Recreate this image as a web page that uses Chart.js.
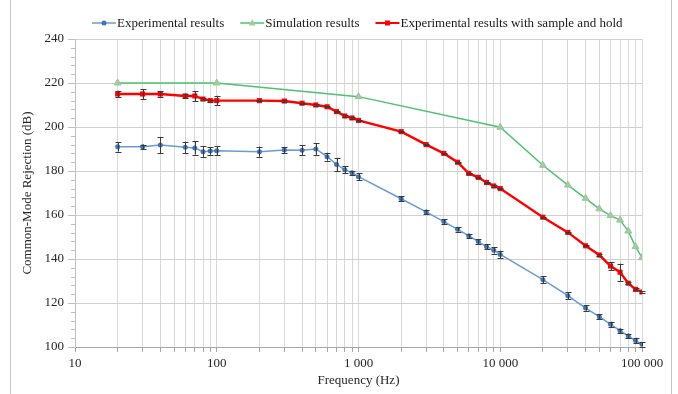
<!DOCTYPE html>
<html>
<head>
<meta charset="utf-8">
<script src="https://cdn.jsdelivr.net/npm/chart.js@4"></script>
<style>
  html, body { margin: 0; padding: 0; background: #fff; }
  #wrap { width: 678px; height: 394px; position: relative; }
</style>
</head>
<body>
<div id="wrap"><canvas id="cmrChart"></canvas></div>
<script>
// Common-mode rejection vs frequency (log x axis), with error bars
const freqs = [20, 30, 40, 60, 70, 80, 90, 100, 200, 300, 400, 500, 600, 700, 800, 900,
  1000, 2000, 3000, 4000, 5000, 6000, 7000, 8000, 9000,
  10000, 20000, 30000, 40000, 50000, 60000, 70000, 80000, 90000, 100000];

const expValues = [191, 191, 191.8, 190.8, 190.5, 188.8, 189.1, 189.2, 188.8, 189.5, 189.4, 190, 186.5, 183, 180.6, 179.2,
  177.4, 167.4, 161.4, 157, 153.5, 150.5, 147.9, 145.6, 144,
  142.1, 130.6, 123.3, 117.7, 113.8, 110.3, 107.4, 105, 102.9, 101.2];
const expErrors = [2.2, 1, 3.7, 2.6, 3, 2.4, 1.7, 2.1, 2.3, 1.5, 2.2, 2.7, 1.8, 3, 1.5, 0.8,
  1.7, 1.2, 1, 1, 1, 1, 1, 1.2, 1.5,
  1.7, 1.5, 1.5, 1.2, 1.2, 1.2, 1, 1, 1.3, 1];

const shValues = [215, 215, 215, 214.1, 214.1, 212.7, 212, 212, 212, 211.8, 210.8, 210, 209.2, 207, 205, 204.1,
  203, 197.9, 192, 188, 184, 178.9, 177.1, 174.8, 173.2,
  172, 159, 152.1, 146, 141.8, 136.8, 134, 129, 126.2, 125];
const shErrors = [1.5, 2.3, 1.2, 1, 2.3, 0.5, 0.5, 2.2, 0.3, 0.3, 0.3, 0.3, 0.3, 0.3, 0.3, 0.3,
  0.3, 0.3, 0.3, 0.3, 0.3, 0.3, 0.3, 0.3, 0.3,
  0.3, 0.3, 0.3, 0.3, 0.3, 1.8, 3.9, 0.4, 0.4, 0.3];

const simFreqs = [20, 100, 1000, 10000, 20000, 30000, 40000, 50000, 60000, 70000, 80000, 90000, 100000];
const simValues = [220, 220, 213.8, 199.9, 182.6, 173.6, 167.6, 162.8, 159.7, 157.7, 152.7, 145.6, 140.6];

const xDecades = [10, 100, 1000, 10000, 100000];
const yMin = 100, yMax = 240, yStep = 20, yMinorStep = 4;

const FONT = 'Liberation Serif';
const TXT = '#262626';

const toPoints = (xs, ys) => xs.map((x, i) => ({ x: x, y: ys[i] }));
const fmt = v => String(v).replace(/\B(?=(\d{3})+(?!\d))/g, ' ');

const series = [
  { label: 'Experimental results', color: '#6a9bd3', marker: '#3f74b8', style: 'circle' },
  { label: 'Simulation results', color: '#4dc26f', marker: '#a9c6a6', style: 'triangle' },
  { label: 'Experimental results with sample and hold', color: '#ff0000', marker: '#ff0000', style: 'rect' }
];

function drawMarker(c, style, x, y, color) {
  c.fillStyle = color;
  c.beginPath();
  if (style === 'circle') {
    c.arc(x, y, 2.5, 0, Math.PI * 2);
  } else if (style === 'triangle') {
    c.moveTo(x, y - 4); c.lineTo(x + 3.5, y + 2.5); c.lineTo(x - 3.5, y + 2.5); c.closePath();
  } else {
    c.rect(x - 2.5, y - 2.5, 5, 5);
  }
  c.fill();
}

const extras = {
  id: 'extras',
  afterDatasetsDraw(chart) {
    const c = chart.ctx, ys = chart.scales.y;
    // error bars
    [[0, expErrors], [2, shErrors]].forEach(([di, errs]) => {
      const meta = chart.getDatasetMeta(di);
      const vals = chart.data.datasets[di].data;
      c.save();
      c.strokeStyle = '#3a3a3a';
      c.lineWidth = 1;
      meta.data.forEach((pt, i) => {
        const e = errs[i];
        const y1 = ys.getPixelForValue(vals[i].y + e), y2 = ys.getPixelForValue(vals[i].y - e);
        const x = Math.round(pt.x) + 0.5;
        c.beginPath();
        c.moveTo(x, y1); c.lineTo(x, y2);
        c.moveTo(x - 3, Math.round(y1) + 0.5); c.lineTo(x + 3, Math.round(y1) + 0.5);
        c.moveTo(x - 3, Math.round(y2) + 0.5); c.lineTo(x + 3, Math.round(y2) + 0.5);
        c.stroke();
      });
      c.restore();
    });
  },
  afterDraw(chart) {
    const c = chart.ctx, ys = chart.scales.y, area = chart.chartArea;
    c.save();
    // minor y ticks
    c.strokeStyle = '#bfbfbf';
    c.lineWidth = 1;
    c.beginPath();
    for (let v = yMin; v <= yMax; v += yMinorStep) {
      if (v % yStep === 0) continue;
      const y = Math.round(ys.getPixelForValue(v)) + 0.5;
      c.moveTo(area.left - 4, y); c.lineTo(area.left, y);
    }
    c.stroke();
    // outer frame sides
    c.strokeStyle = '#c4c4c4';
    c.beginPath();
    c.moveTo(10.5, 0); c.lineTo(10.5, 394);
    c.moveTo(671.5, 0); c.lineTo(671.5, 394);
    c.stroke();
    // legend
    c.font = '13px "' + FONT + '"';
    c.textBaseline = 'middle';
    let x = 92;
    const y = 23;
    series.forEach(s => {
      c.strokeStyle = s.color;
      c.lineWidth = s.style === 'rect' ? 2 : 1.5;
      c.beginPath();
      c.moveTo(x, y); c.lineTo(x + 24, y);
      c.stroke();
      drawMarker(c, s.style, x + 12, y, s.marker);
      c.fillStyle = '#1a1a1a';
      c.fillText(s.label, x + 25, y + 1);
      x += 25 + c.measureText(s.label).width + 16;
    });
    c.restore();
  }
};

const ctx = document.getElementById('cmrChart').getContext('2d');

const cmrChart = new Chart(ctx, {
  type: 'line',
  data: {
    datasets: [
      {
        label: series[0].label,
        data: toPoints(freqs, expValues),
        borderColor: series[0].color,
        borderWidth: 1.5,
        pointStyle: 'circle',
        pointRadius: 2.5,
        pointBackgroundColor: series[0].marker,
        pointBorderColor: series[0].marker,
        pointBorderWidth: 0
      },
      {
        label: series[1].label,
        data: toPoints(simFreqs, simValues),
        borderColor: series[1].color,
        borderWidth: 1.5,
        pointStyle: 'triangle',
        pointRadius: 4,
        pointBackgroundColor: series[1].marker,
        pointBorderColor: '#9cc59a',
        pointBorderWidth: 1
      },
      {
        label: series[2].label,
        data: toPoints(freqs, shValues),
        borderColor: series[2].color,
        borderWidth: 2.4,
        pointStyle: 'rect',
        pointRadius: 3.6,
        pointBackgroundColor: series[2].marker,
        pointBorderColor: series[2].marker,
        pointBorderWidth: 0
      }
    ]
  },
  options: {
    responsive: true,
    maintainAspectRatio: false,
    animation: false,
    events: [],
    layout: { padding: { left: 10, top: 39, right: 36, bottom: 0 } },
    elements: { line: { tension: 0 } },
    plugins: {
      legend: { display: false },
      tooltip: { enabled: false }
    },
    scales: {
      x: {
        type: 'logarithmic',
        min: 10,
        max: 100000,
        afterFit: s => { s.height = 47; },
        afterBuildTicks: s => {
          const t = [];
          xDecades.forEach(d => {
            for (let m = 1; m <= 9; m++) {
              if (m * d <= 100000) t.push({ value: m * d });
            }
          });
          s.ticks = t;
        },
        grid: { color: '#d9d9d9', tickLength: 5, tickColor: '#a6a6a6' },
        border: { color: '#a6a6a6' },
        ticks: {
          autoSkip: false,
          maxRotation: 0,
          padding: 4,
          color: TXT,
          font: { family: FONT, size: 13 },
          callback: v => xDecades.includes(v) ? fmt(v) : ''
        },
        title: {
          display: true,
          text: 'Frequency (Hz)',
          color: TXT,
          font: { family: FONT, size: 13 },
          padding: { top: 0, bottom: 6 }
        }
      },
      y: {
        min: yMin,
        max: yMax,
        afterFit: s => { s.width = 65; },
        grid: { color: '#d0d0d0', tickLength: 7, tickColor: '#bfbfbf' },
        border: { color: '#bfbfbf' },
        ticks: {
          stepSize: yStep,
          padding: 4,
          color: TXT,
          font: { family: FONT, size: 13 }
        },
        title: {
          display: true,
          text: 'Common-Mode Rejection (dB)',
          color: TXT,
          font: { family: FONT, size: 13 },
          padding: { top: 10, bottom: 0 }
        }
      }
    }
  },
  plugins: [extras]
});
</script>
</body>
</html>
